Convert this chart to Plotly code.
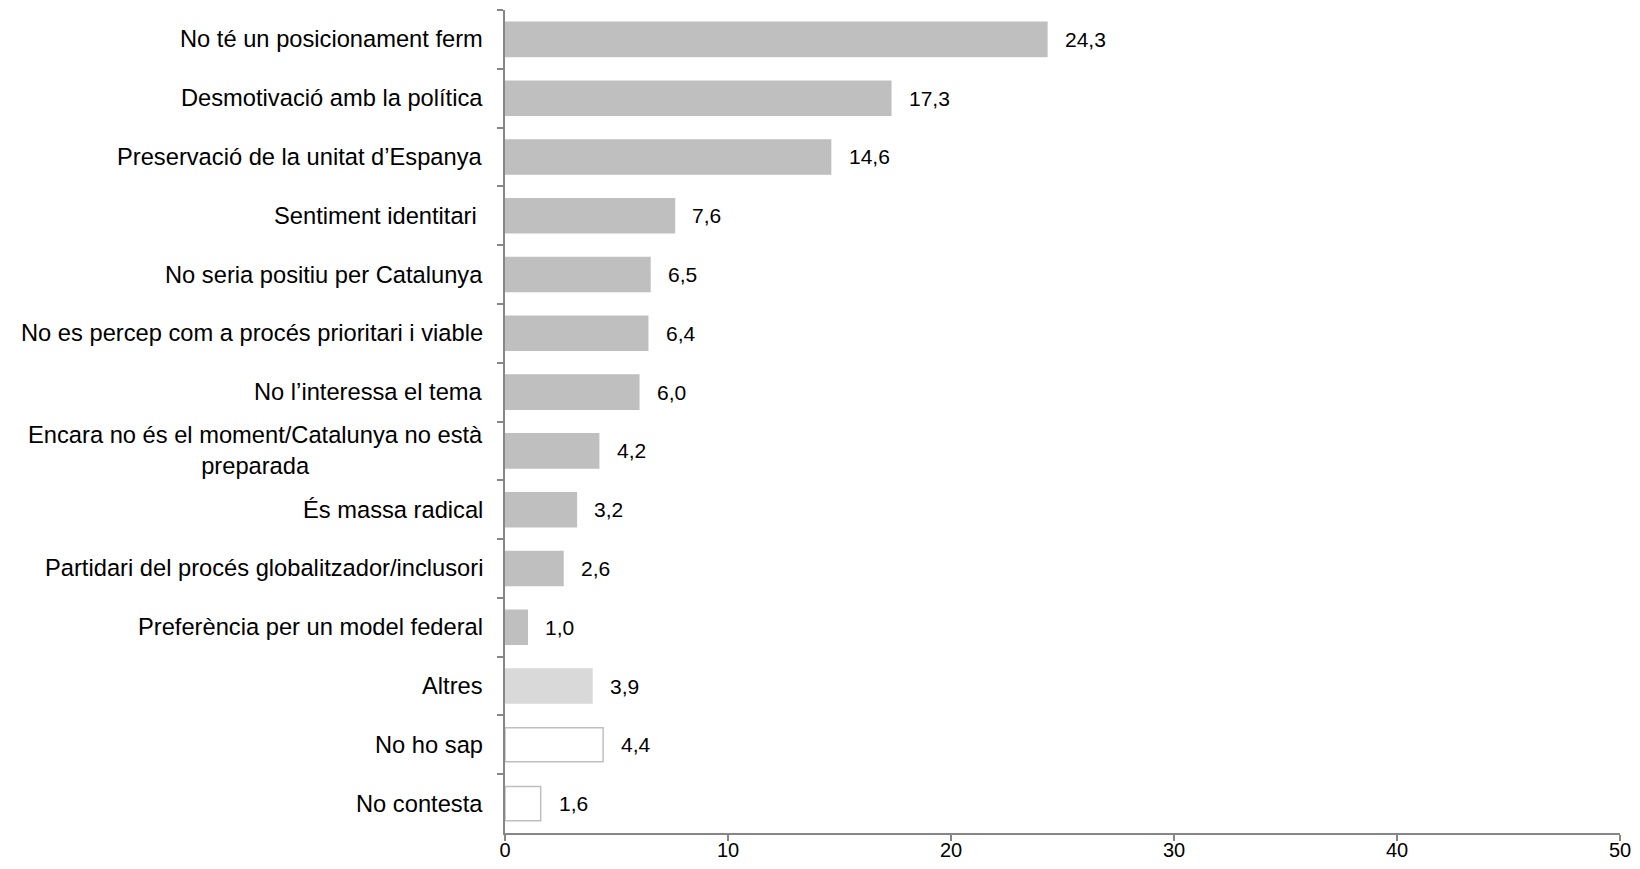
import plotly.graph_objects as go

categories = [
    "No té un posicionament ferm",
    "Desmotivació amb la política",
    "Preservació de la unitat d’Espanya",
    "Sentiment identitari ",
    "No seria positiu per Catalunya",
    "No es percep com a procés prioritari i viable",
    "No l’interessa el tema",
    "Encara no és el moment/Catalunya no està<br>preparada",
    "És massa radical",
    "Partidari del procés globalitzador/inclusori",
    "Preferència per un model federal",
    "Altres",
    "No ho sap",
    "No contesta",
]
values = [24.3, 17.3, 14.6, 7.6, 6.5, 6.4, 6.0, 4.2, 3.2, 2.6, 1.0, 3.9, 4.4, 1.6]
fill_colors = ["#BFBFBF"] * 11 + ["#D9D9D9", "#FFFFFF", "#FFFFFF"]
line_colors = ["#BFBFBF"] * 11 + ["#D9D9D9", "#BFBFBF", "#BFBFBF"]
x_ticks = [0, 10, 20, 30, 40, 50]

FONT = "Liberation Sans, Arial, sans-serif"

fig = go.Figure()
fig.add_trace(go.Bar(
    y=categories, x=values, orientation="h",
    marker=dict(color=fill_colors, line=dict(color=line_colors, width=1.5)),
    width=0.58, hoverinfo="skip",
))

annotations = []
for c, v in zip(categories, values):
    annotations.append(dict(
        x=0, y=c, xref="x", yref="y", text=c, showarrow=False,
        xanchor="right", yanchor="middle", align="center", xshift=-20,
        font=dict(family=FONT, size=23.7, color="#000000"),
    ))
    annotations.append(dict(
        x=v, y=c, xref="x", yref="y", text=f"{v:.1f}".replace(".", ","),
        showarrow=False, xanchor="left", yanchor="middle", xshift=16,
        font=dict(family=FONT, size=21, color="#000000"),
    ))

fig.update_layout(
    width=1624, height=853,
    margin=dict(l=497, r=12, t=2, b=28),
    paper_bgcolor="#FFFFFF", plot_bgcolor="#FFFFFF",
    showlegend=False,
    annotations=annotations,
    xaxis=dict(
        range=[0, 50], tickvals=x_ticks, ticktext=[str(t) for t in x_ticks],
        showgrid=False, zeroline=False, showline=True, linecolor="#868686", linewidth=1.5,
        ticks="outside", ticklen=6, tickcolor="#868686", tickwidth=1.5,
        ticklabelstandoff=-8, automargin=False,
        tickfont=dict(family=FONT, size=20, color="#000000"),
    ),
    yaxis=dict(
        type="category", categoryorder="array", categoryarray=categories,
        autorange="reversed",
        showgrid=False, zeroline=False, showline=True, linecolor="#868686", linewidth=1.5,
        ticks="outside", ticklen=6, tickcolor="#868686", tickwidth=1.5,
        tickson="boundaries", showticklabels=False,
    ),
)

fig.write_html("out.html")
